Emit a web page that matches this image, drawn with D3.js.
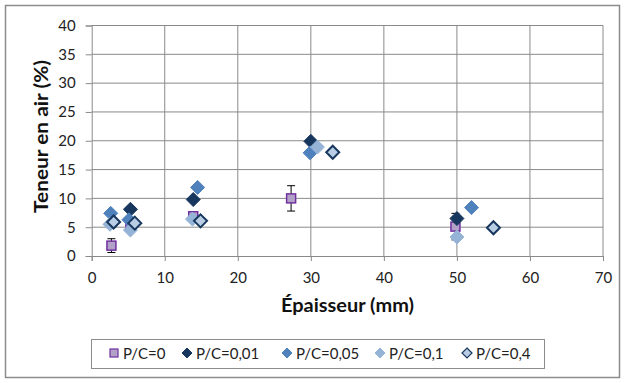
<!DOCTYPE html>
<html><head><meta charset="utf-8">
<script src="https://cdn.jsdelivr.net/npm/d3@7"></script>
<style>body{margin:0;background:#fff}svg{display:block}text{font-family:Lato,"Open Sans",sans-serif}</style>
</head><body><svg id="c" width="626" height="383"></svg>
<script>
const xTicks=[0,10,20,30,40,50,60,70];
const yTicks=[0,5,10,15,20,25,30,35,40];
const seriesNames=["P/C=0","P/C=0,01","P/C=0,05","P/C=0,1","P/C=0,4"];
const s0x=[2.7,5.3,13.9,27.3,49.8], s0y=[1.8,5.4,6.9,10.0,5.1], s0e=[1.2,0.6,0.6,2.2,2.3];
const s1x=[5.3,13.9,30.0,50.0], s1y=[8.1,9.8,19.9,6.5];
const s2x=[2.6,5.1,14.5,29.9,52.0], s2y=[7.4,6.3,11.9,17.9,8.4];
const s3x=[2.5,5.3,13.8,30.9,50.0], s3y=[5.5,4.5,6.4,18.9,3.3];
const s4x=[3.0,5.9,14.9,33.0,55.0], s4y=[5.9,5.7,6.1,18.0,4.9];

const svg=d3.select("#c");
svg.append("rect").attr("x",5.5).attr("y",5.5).attr("width",614).attr("height",372).attr("fill","#fff").attr("stroke","#8c8c8c").attr("stroke-width",1.5);
const x=d3.scaleLinear().domain([0,70]).range([91.7,603]);
const y=d3.scaleLinear().domain([0,40]).range([256,25.5]);
const g=svg.append("g");
g.selectAll(".vg").data(xTicks.slice(1)).join("line").attr("x1",d=>x(d)).attr("x2",d=>x(d)).attr("y1",y(0)).attr("y2",y(40)).attr("stroke","#8a8a8a").attr("stroke-width",1);
g.selectAll(".hg").data(yTicks.slice(1)).join("line").attr("x1",x(0)).attr("x2",x(70)).attr("y1",d=>y(d)).attr("y2",d=>y(d)).attr("stroke","#8a8a8a").attr("stroke-width",1);
const xa=svg.append("g").attr("transform",`translate(0,${y(0)})`).call(d3.axisBottom(x).tickValues(xTicks).tickSize(5).tickPadding(11));
const ya=svg.append("g").attr("transform",`translate(${x(0)},0)`).call(d3.axisLeft(y).tickValues(yTicks).tickSize(6).tickPadding(10));
[xa,ya].forEach(a=>{a.select(".domain").attr("stroke","#8a8a8a");a.selectAll(".tick line").attr("stroke","#8a8a8a");a.selectAll("text").attr("font-size",15).attr("fill","#222");});
svg.append("text").attr("x",347.5).attr("y",312).attr("text-anchor","middle").attr("font-size",18).attr("font-weight","bold").attr("fill","#111").attr("textLength",133).attr("lengthAdjust","spacingAndGlyphs").text("Épaisseur (mm)");
svg.append("text").attr("transform","translate(48,136.5) rotate(-90)").attr("text-anchor","middle").attr("font-size",18).attr("font-weight","bold").attr("fill","#111").attr("textLength",153).attr("lengthAdjust","spacingAndGlyphs").text("Teneur en air (%)");

function diamondPath(r){return `M0,${-r}L${r},0L0,${r}L${-r},0Z`;}
const styles=[
 {fill:"#b3a2c7",stroke:"#7030a0",sw:1.5},
 {fill:"#17375e",stroke:"#17375e",sw:1},
 {fill:"#4f81bd",stroke:"#4f81bd",sw:1},
 {fill:"#95b3d7",stroke:"#95b3d7",sw:1},
 {fill:"#b9cde5",stroke:"#17375e",sw:2}
];
const d0=s0x.map((v,i)=>({x:v,y:s0y[i],e:s0e[i]}));
const eb=g.selectAll(".eb").data(d0).join("g");
eb.append("line").attr("x1",d=>x(d.x)).attr("x2",d=>x(d.x)).attr("y1",d=>y(d.y-d.e)).attr("y2",d=>y(d.y+d.e)).attr("stroke","#000");
eb.append("line").attr("x1",d=>x(d.x)-4).attr("x2",d=>x(d.x)+4).attr("y1",d=>y(d.y-d.e)).attr("y2",d=>y(d.y-d.e)).attr("stroke","#000");
eb.append("line").attr("x1",d=>x(d.x)-4).attr("x2",d=>x(d.x)+4).attr("y1",d=>y(d.y+d.e)).attr("y2",d=>y(d.y+d.e)).attr("stroke","#000");
g.selectAll(".s0").data(d0).join("rect").attr("x",d=>x(d.x)-4.5).attr("y",d=>y(d.y)-4.5).attr("width",9).attr("height",9).attr("fill",styles[0].fill).attr("stroke",styles[0].stroke).attr("stroke-width",1.5);
const others=[[s1x,s1y],[s2x,s2y],[s3x,s3y],[s4x,s4y]];
others.forEach((s,k)=>{
  const st=styles[k+1];
  const data=s[0].map((v,i)=>({x:v,y:s[1][i]}));
  g.selectAll(".s"+(k+1)).data(data).join("path").attr("transform",d=>`translate(${x(d.x)},${y(d.y)})`).attr("d",diamondPath(k===3?6.5:7)).attr("fill",st.fill).attr("stroke",st.stroke).attr("stroke-width",st.sw);
});
const lg=svg.append("g");
lg.append("rect").attr("x",91.5).attr("y",339.5).attr("width",453).attr("height",29).attr("fill","#fff").attr("stroke","#8c8c8c");
const lx=[114,187,287,380,467];
seriesNames.forEach((n,i)=>{
  const st=styles[i];
  if(i===0) lg.append("rect").attr("x",lx[i]-4).attr("y",349).attr("width",8).attr("height",8).attr("fill",st.fill).attr("stroke",st.stroke).attr("stroke-width",1.2);
  else lg.append("path").attr("transform",`translate(${lx[i]},353)`).attr("d",diamondPath(5)).attr("fill",st.fill).attr("stroke",st.stroke).attr("stroke-width",i===4?1.2:1);
  lg.append("text").attr("x",lx[i]+9).attr("y",358.5).attr("font-size",15).attr("fill","#222").text(n);
});
</script></body></html>
